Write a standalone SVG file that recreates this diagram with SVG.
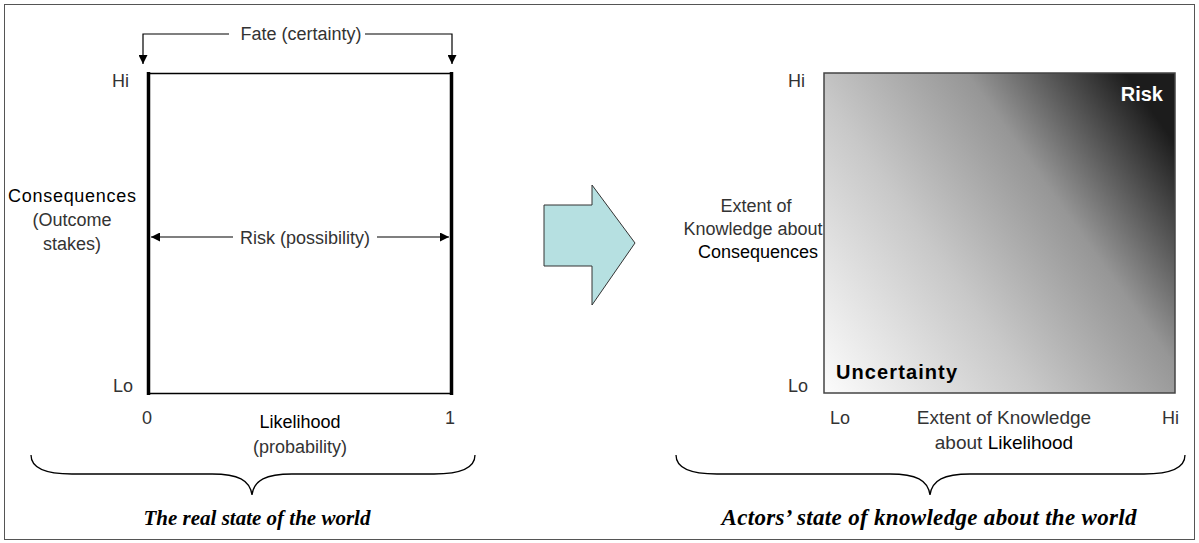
<svg xmlns="http://www.w3.org/2000/svg" width="1199" height="543" viewBox="0 0 1199 543">
  <style>
    .lt { font-family: "Liberation Sans", Arial, sans-serif; font-size: 18px; fill: #333; }
    .dk { font-family: "Liberation Sans", Arial, sans-serif; font-size: 18px; fill: #000; }
    .bd { font-family: "Liberation Sans", Arial, sans-serif; font-size: 20px; font-weight: bold; }
    .cap { font-family: "Liberation Serif", "Times New Roman", serif; font-size: 21px; font-weight: bold; font-style: italic; fill: #000; }
    .mid { text-anchor: middle; }
    .ln { stroke: #000; stroke-width: 1.2; fill: none; }
    .brace { stroke: #000; stroke-width: 1.3; fill: none; }
  </style>
  <defs>
    <marker id="head" viewBox="0 0 10 10" refX="10" refY="5" markerWidth="10" markerHeight="9" markerUnits="userSpaceOnUse" orient="auto">
      <path d="M0,0 L10,5 L0,10 Z" fill="#000"/>
    </marker>
    <linearGradient id="know" gradientUnits="userSpaceOnUse" x1="824" y1="393" x2="1175" y2="143">
      <stop offset="0" stop-color="#fcfcfc"/>
      <stop offset="0.4" stop-color="#c8c8c8"/>
      <stop offset="0.7" stop-color="#969696"/>
      <stop offset="1" stop-color="#1c1c1c"/>
    </linearGradient>
  </defs>

  <!-- frame -->
  <rect x="4.5" y="4.5" width="1190" height="535" fill="#fff" stroke="#555" stroke-width="1"/>

  <!-- left panel: the real state of the world -->
  <g id="real-world">
    <line x1="147" y1="73.5" x2="453" y2="73.5" stroke="#000" stroke-width="1.5"/>
    <line x1="147" y1="393.5" x2="453" y2="393.5" stroke="#000" stroke-width="1.5"/>
    <line x1="148.5" y1="72" x2="148.5" y2="395" stroke="#000" stroke-width="3.5"/>
    <line x1="451.5" y1="72" x2="451.5" y2="395" stroke="#000" stroke-width="3.5"/>
    <text class="lt" x="112" y="87">Hi</text>
    <text class="lt" x="113" y="392">Lo</text>
    <text class="lt mid" x="147" y="424">0</text>
    <text class="lt mid" x="450" y="424">1</text>
    <text class="dk mid" x="72" y="202" textLength="128">Consequences</text>
    <text class="lt mid" x="72" y="226">(Outcome</text>
    <text class="lt mid" x="72" y="250">stakes)</text>
    <text class="dk mid" x="300" y="428">Likelihood</text>
    <text class="lt mid" x="300" y="453">(probability)</text>
    <text class="lt mid" x="301" y="40">Fate (certainty)</text>
    <text class="lt mid" x="305" y="244">Risk (possibility)</text>
  </g>

  <!-- transition arrow -->
  <g id="transition">
    <polygon points="544,205 592,205 592,185 635,243 592,305 592,266 544,266" fill="#b6e0e1" stroke="#333" stroke-width="1"/>
  </g>

  <!-- right panel: actors' state of knowledge -->
  <g id="knowledge">
    <rect x="824" y="73" width="351" height="320" fill="url(#know)" stroke="#444" stroke-width="1.5"/>
    <text class="bd" x="1163" y="101" text-anchor="end" fill="#fff">Risk</text>
    <text class="bd" x="836" y="379" fill="#000" textLength="121">Uncertainty</text>
    <text class="lt" x="788" y="87">Hi</text>
    <text class="lt" x="788" y="392">Lo</text>
    <text class="lt" x="830" y="424">Lo</text>
    <text class="lt" x="1162" y="424">Hi</text>
    <text class="lt mid" x="1004" y="424" style="font-size:19px">Extent of Knowledge</text>
    <text class="mid" x="1004" y="449"><tspan class="lt" style="font-size:19px">about </tspan><tspan class="dk" style="font-size:19px">Likelihood</tspan></text>
    <text class="lt mid" x="756" y="212">Extent of</text>
    <text class="lt mid" x="753" y="235">Knowledge about</text>
    <text class="dk mid" x="758" y="258">Consequences</text>
  </g>

  <!-- captions -->
  <g id="caption-real">
    <text class="cap mid" x="257" y="525">The real state of the world</text>
  </g>
  <g id="caption-actors">
    <text class="cap mid" x="929" y="525" style="font-size:23px" textLength="415">Actors’ state of knowledge about the world</text>
  </g>

  <!-- connectors -->
  <g id="connectors">
    <polyline class="ln" points="229,34 143,34 143,64" marker-end="url(#head)"/>
    <polyline class="ln" points="365,34 452,34 452,64" marker-end="url(#head)"/>
    <line class="ln" x1="233" y1="237" x2="151" y2="237" marker-end="url(#head)"/>
    <line class="ln" x1="377" y1="237" x2="449" y2="237" marker-end="url(#head)"/>
    <path class="brace" d="M31,455 C31,468 44,474 72,474 L212,474 C238,474 250,480 252,495 C254,480 266,474 292,474 L434,474 C462,474 475,468 475,455"/>
    <path class="brace" d="M676,455 C676,468 689,474 717,474 L890,474 C916,474 928,480 930,495 C932,480 944,474 970,474 L1144,474 C1172,474 1185,468 1185,455"/>
  </g>
</svg>
